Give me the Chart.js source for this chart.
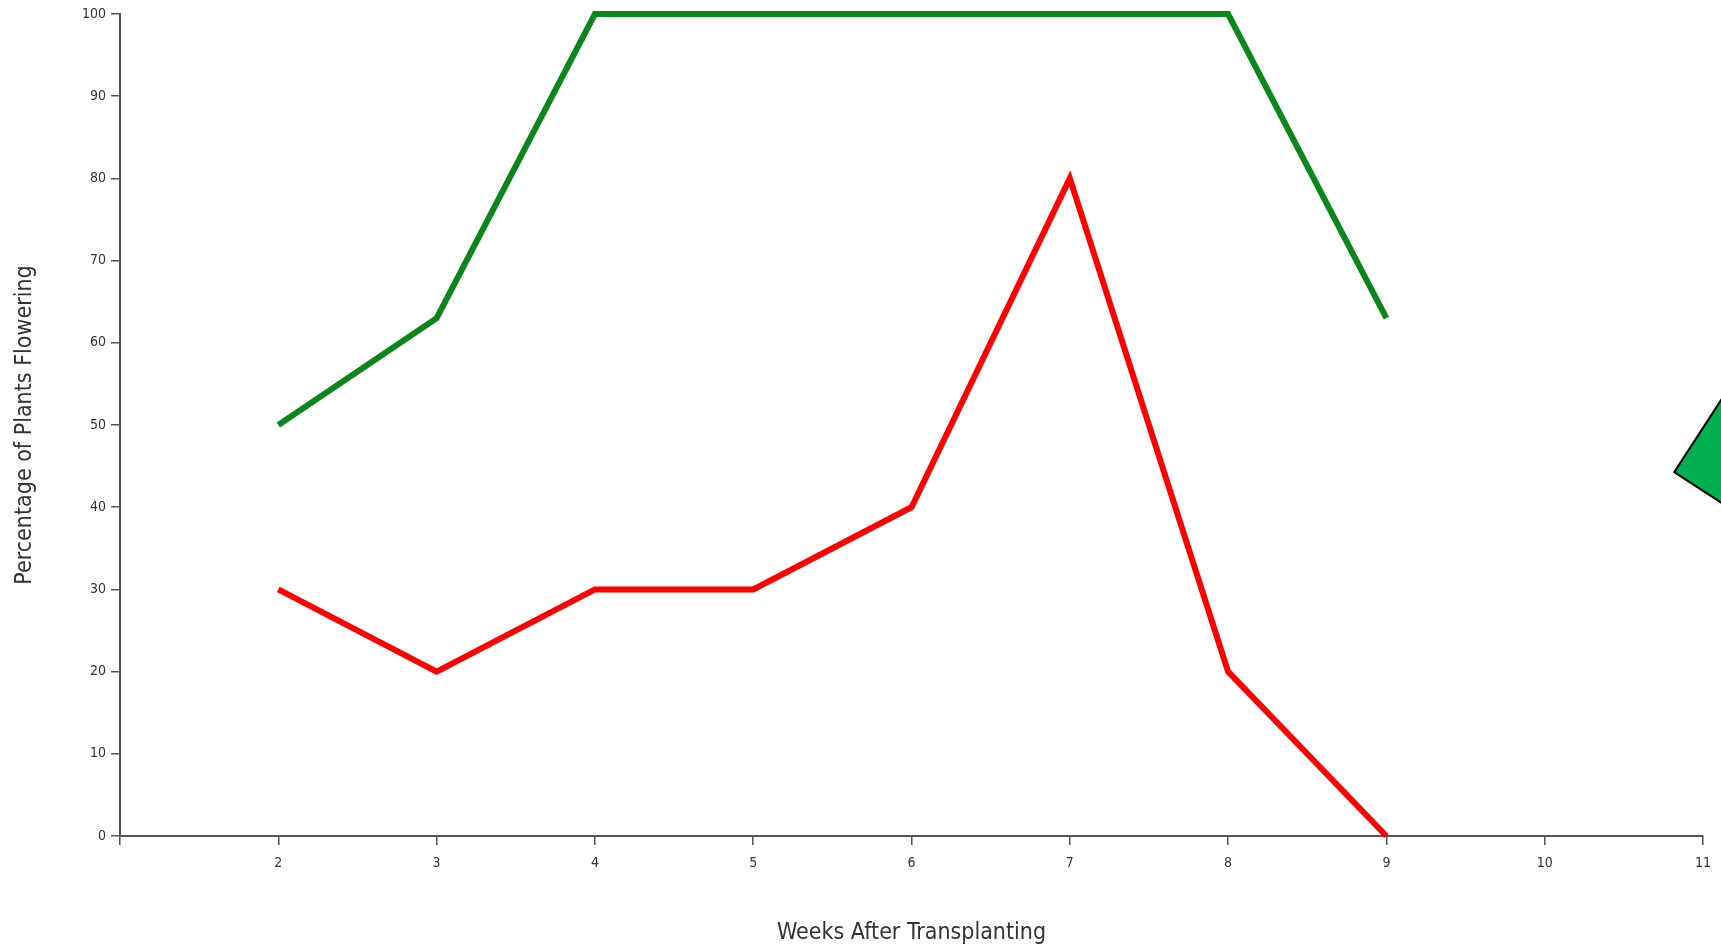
<!DOCTYPE html>
<html>
<head>
<meta charset="utf-8">
<script src="https://cdn.jsdelivr.net/npm/chart.js@4/dist/chart.umd.min.js"></script>
<style>
  html, body { margin: 0; padding: 0; background: #fff; }
  #wrap { width: 1721px; height: 948px; }
</style>
</head>
<body>
<div id="wrap"><canvas id="flowerChart"></canvas></div>
<script>
const weeks = [2, 3, 4, 5, 6, 7, 8, 9];
const greenSeries = [50, 63, 100, 100, 100, 100, 100, 63];
const redSeries = [30, 20, 30, 30, 40, 80, 20, 0];
const yTicks = [0, 10, 20, 30, 40, 50, 60, 70, 80, 90, 100];
const xTicks = [1, 2, 3, 4, 5, 6, 7, 8, 9, 10, 11];
// green marker sitting past the right edge
const markerX = [11.56];
const markerY = [47.3];

const axisColor = '#555';
const textColor = '#333';
const fontFamily = '"DejaVu Sans Condensed", "DejaVu Sans", sans-serif';

function toPoints(xs, ys) {
    return xs.map((x, i) => ({x: x, y: ys[i]}));
}

const ctx = document.getElementById('flowerChart').getContext('2d');
new Chart(ctx, {
    type: 'line',
    data: {
        datasets: [{
            label: 'Green',
            data: toPoints(weeks, greenSeries),
            borderColor: '#0a861a',
            borderWidth: 6,
            pointRadius: 0,
            tension: 0,
            borderJoinStyle: 'miter',
            borderCapStyle: 'butt',
            clip: false
        }, {
            label: 'Red',
            data: toPoints(weeks, redSeries),
            borderColor: '#ff0000',
            borderWidth: 6,
            pointRadius: 0,
            tension: 0,
            borderJoinStyle: 'miter',
            borderCapStyle: 'butt',
            clip: false
        }, {
            type: 'scatter',
            label: 'Marker',
            data: toPoints(markerX, markerY),
            pointStyle: 'rectRot',
            rotation: -12,
            pointRadius: 120,
            pointHoverRadius: 120,
            backgroundColor: '#00b050',
            borderColor: '#000',
            borderWidth: 2,
            showLine: false,
            clip: false
        }]
    },
    options: {
        responsive: true,
        maintainAspectRatio: false,
        animation: false,
        layout: { autoPadding: false, padding: { top: 14, right: 16, left: 0, bottom: 0 } },
        plugins: {
            legend: { display: false },
            tooltip: { enabled: false }
        },
        scales: {
            x: {
                type: 'linear',
                min: 1,
                max: 11,
                afterFit: (scale) => { scale.height = 112; },
                afterBuildTicks: (scale) => { scale.ticks = xTicks.map(v => ({value: v})); },
                ticks: {
                    color: textColor,
                    font: { family: fontFamily, size: 14 },
                    padding: 10,
                    maxRotation: 0,
                    callback: (v) => v === 1 ? '' : v
                },
                grid: { drawOnChartArea: false, tickLength: 9, color: axisColor, lineWidth: 1.5 },
                border: { display: true, color: axisColor, width: 2 },
                title: {
                    display: true,
                    text: 'Weeks After Transplanting',
                    color: textColor,
                    font: { family: fontFamily, size: 23 },
                    padding: { top: 0, bottom: 1 }
                }
            },
            y: {
                min: 0,
                max: 100,
                afterFit: (scale) => { scale.width = 120; },
                afterBuildTicks: (scale) => { scale.ticks = yTicks.map(v => ({value: v})); },
                ticks: {
                    color: textColor,
                    font: { family: fontFamily, size: 14 },
                    padding: 5
                },
                grid: { drawOnChartArea: false, tickLength: 9, color: axisColor, lineWidth: 1.5 },
                border: { display: true, color: axisColor, width: 2 },
                title: {
                    display: true,
                    text: 'Percentage of Plants Flowering',
                    color: textColor,
                    font: { family: fontFamily, size: 23 },
                    padding: { top: 11, bottom: 0 }
                }
            }
        }
    }
});
</script>
</body>
</html>
